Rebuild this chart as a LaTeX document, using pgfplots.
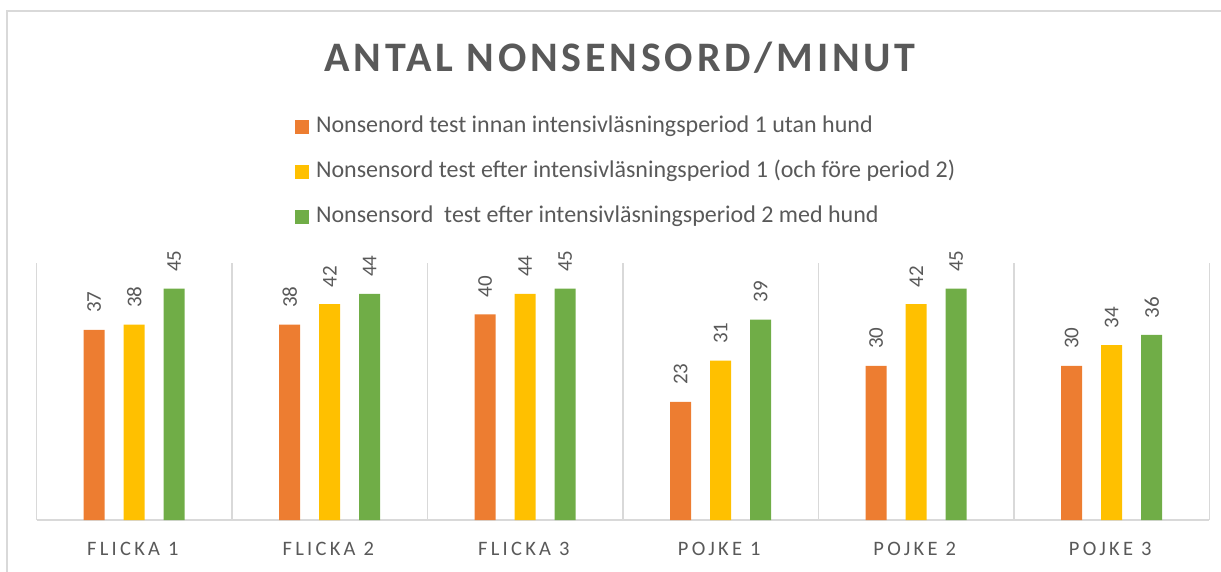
\documentclass[border=0pt]{standalone}
\usepackage{pgfplots}
\pgfplotsset{compat=1.18}
\usepackage{fontspec}
\setmainfont{Carlito}
\newfontfamily\titlefont[LetterSpace=9]{Carlito}
\newfontfamily\tickfont[LetterSpace=16]{Carlito}
\definecolor{txt}{HTML}{595959}
\definecolor{gridc}{HTML}{D9D9D9}
\definecolor{c1}{HTML}{ED7D31}
\definecolor{c2}{HTML}{FFC000}
\definecolor{c3}{HTML}{70AD47}
\begin{document}
\begin{tikzpicture}[x=1pt,y=1pt]
\useasboundingbox (0,0) rectangle (1221,571);
\draw[gridc, line width=1.2pt] (7,-20) -- (7,560) -- (1240,560);
\node[anchor=base, font=\titlefont\fontsize{42}{50}\selectfont\bfseries, text=txt, inner sep=0pt] at (620,499.3) {ANTAL NONSENSORD/MINUT};
\begin{axis}[
  at={(36.5pt,51pt)}, anchor=south west, scale only axis,
  width=1173pt, height=257pt,
  xmin=-0.5, xmax=5.5, ymin=0, ymax=50, clip=false,
  axis x line*=bottom, axis y line=none,
  x axis line style={gridc, line width=1.5pt, -},
  ytick=\empty,
  xtick={0,1,2,3,4,5},
  xticklabels={FLICKA 1, FLICKA 2, FLICKA 3, POJKE 1, POJKE 2, POJKE 3},
  major tick length=0pt, minor tick length=0pt,
  minor xtick={-0.5,0.5,1.5,2.5,3.5,4.5,5.5},
  xminorgrids, minor x grid style={gridc, line width=1.5pt},
  xticklabel style={font=\tickfont\fontsize{20.5}{25}\selectfont, text=txt, anchor=base, inner sep=0pt, yshift=-35pt, xshift=-1.5pt},
  /pgf/number format/assume math mode=true,
  ybar, bar width=21pt,
  nodes near coords,
  nodes near coords style={font=\fontsize{21}{25}\selectfont, text=txt, rotate=90, anchor=west, inner xsep=16.7pt, inner ysep=0pt},
  legend cell align=left,
  legend style={at={(axis description cs:0.2204,1.5732)}, anchor=north west, draw=none, fill=none,
    inner sep=0pt, outer sep=0pt, row sep=23pt, column sep=7pt,
    font=\fontsize{24}{28}\selectfont, text=txt,
    nodes={inner sep=0pt, text height=17pt, text depth=5pt}},
]
\addplot[fill=c1, draw=none, bar shift=-40pt, legend image code/.code={\fill[c1] (0pt,-7pt) rectangle (14pt,7pt);}]
  coordinates {(0,37) (1,38) (2,40) (3,23) (4,30) (5,30)};
\addlegendentry{Nonsenord test innan intensivläsningsperiod 1 utan hund}
\addplot[fill=c2, draw=none, bar shift=0pt, legend image code/.code={\fill[c2] (0pt,-7pt) rectangle (14pt,7pt);}]
  coordinates {(0,38) (1,42) (2,44) (3,31) (4,42) (5,34)};
\addlegendentry{Nonsensord test efter intensivläsningsperiod 1 (och före period 2)}
\addplot[fill=c3, draw=none, bar shift=40pt, legend image code/.code={\fill[c3] (0pt,-7pt) rectangle (14pt,7pt);}]
  coordinates {(0,45) (1,44) (2,45) (3,39) (4,45) (5,36)};
\addlegendentry{Nonsensord~ test efter intensivläsningsperiod 2 med hund}
\end{axis}
\end{tikzpicture}
\end{document}
